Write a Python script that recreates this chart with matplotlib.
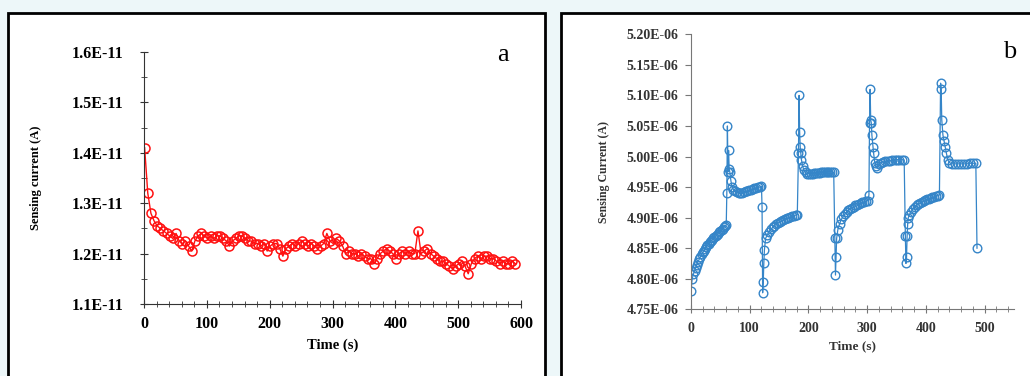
import numpy as np
import matplotlib
matplotlib.use("Agg")
import matplotlib.pyplot as plt
from matplotlib.patches import Rectangle
from matplotlib.ticker import MultipleLocator, FuncFormatter

# panel a: sensing current (units of 1E-11 A), one reading every 5 s from t=1 s
current_a = [
    1.41, 1.32, 1.28, 1.265, 1.255, 1.25, 1.245, 1.24, 1.235, 1.23,
    1.24, 1.225, 1.22, 1.225, 1.215, 1.205, 1.225, 1.235, 1.24, 1.235,
    1.23, 1.235, 1.23, 1.235, 1.235, 1.23, 1.225, 1.215, 1.225, 1.23,
    1.235, 1.235, 1.23, 1.225, 1.225, 1.22, 1.22, 1.215, 1.22, 1.205,
    1.215, 1.22, 1.22, 1.21, 1.195, 1.21, 1.215, 1.22, 1.215, 1.22,
    1.225, 1.22, 1.215, 1.22, 1.215, 1.21, 1.215, 1.22, 1.24, 1.225,
    1.22, 1.23, 1.225, 1.215, 1.20, 1.205, 1.20, 1.20, 1.195, 1.20,
    1.195, 1.19, 1.19, 1.18, 1.19, 1.20, 1.205, 1.21, 1.205, 1.20,
    1.19, 1.20, 1.205, 1.20, 1.205, 1.20, 1.20, 1.245, 1.20, 1.205,
    1.21, 1.20, 1.195, 1.19, 1.185, 1.185, 1.18, 1.175, 1.17, 1.175,
    1.18, 1.185, 1.175, 1.16, 1.18, 1.19, 1.195, 1.19, 1.195, 1.195,
    1.19, 1.19, 1.185, 1.18, 1.185, 1.18, 1.18, 1.185, 1.18,
]
time_a = np.arange(len(current_a)) * 5 + 1

# panel b: sensing current (units of 1E-06 A), four on/off cycles
cycle1_t = [0, 2, 4, 6, 8, 10, 12, 14, 16, 18, 20, 22, 24, 26, 28, 30, 32, 34,
            36, 38, 40, 42, 44, 46, 48, 50, 52, 54, 56, 58, 60,
            61, 62, 63, 64, 65, 66, 68, 70, 72, 75, 78, 81, 84, 87, 90, 93,
            96, 99, 102, 105, 108, 111, 114, 117, 120]
cycle1_i = [4.78, 4.80, 4.807, 4.813, 4.818, 4.823, 4.828, 4.832, 4.836, 4.84,
            4.843, 4.846, 4.849, 4.852, 4.855, 4.857, 4.86, 4.862, 4.864,
            4.866, 4.868, 4.87, 4.872, 4.874, 4.876, 4.878, 4.88, 4.882,
            4.884, 4.886, 4.888,
            4.94, 5.05, 4.975, 5.01, 4.98, 4.975, 4.96, 4.95, 4.946, 4.943,
            4.942, 4.94, 4.94, 4.941, 4.942, 4.943, 4.944, 4.945, 4.946,
            4.947, 4.948, 4.949, 4.95, 4.95, 4.951]
cycle2_t = [121, 122, 123, 124, 125, 127, 130, 133, 136, 139, 142, 145, 148,
            151, 154, 157, 160, 163, 166, 169, 172, 175, 178, 181,
            183, 184, 185, 186, 187, 188, 190, 192, 195, 198, 201, 204, 207,
            210, 213, 216, 219, 222, 225, 228, 231, 234, 237, 240, 243]
cycle2_i = [4.917, 4.777, 4.795, 4.825, 4.847, 4.866, 4.872, 4.877, 4.881,
            4.884, 4.887, 4.889, 4.891, 4.893, 4.895, 4.896, 4.898, 4.899,
            4.90, 4.901, 4.902, 4.903, 4.904, 4.905,
            5.005, 5.10, 5.04, 5.015, 5.005, 4.995, 4.985, 4.978, 4.974,
            4.972, 4.972, 4.972, 4.972, 4.973, 4.973, 4.973, 4.973, 4.974,
            4.974, 4.974, 4.974, 4.975, 4.975, 4.975, 4.974]
cycle3_t = [245, 246, 247, 248, 250, 253, 256, 259, 262, 265, 268, 271, 274,
            277, 280, 283, 286, 289, 292, 295, 298, 301, 303,
            304, 305, 306, 307, 308, 310, 311, 313, 315, 317, 320, 323, 327,
            331, 335, 339, 343, 347, 351, 355, 359, 363]
cycle3_i = [4.866, 4.806, 4.836, 4.866, 4.88, 4.89, 4.897, 4.902, 4.906,
            4.909, 4.912, 4.914, 4.916, 4.918, 4.92, 4.921, 4.922, 4.924,
            4.925, 4.926, 4.927, 4.928, 4.937,
            5.055, 5.11, 5.06, 5.055, 5.035, 5.015, 5.005, 4.99, 4.985,
            4.982, 4.988, 4.99, 4.991, 4.992, 4.993, 4.993, 4.994, 4.994,
            4.995, 4.995, 4.995, 4.994]
cycle4_t = [365, 366, 367, 368, 369, 370, 372, 375, 378, 381, 384, 387, 390,
            393, 396, 399, 402, 405, 408, 411, 414, 417, 420, 423,
            425, 426, 427, 429, 431, 433, 435, 437, 440, 445, 450, 455, 460,
            465, 470, 475, 480, 485, 487]
cycle4_i = [4.87, 4.825, 4.835, 4.87, 4.89, 4.90, 4.905, 4.91, 4.914, 4.917,
            4.92, 4.922, 4.924, 4.926, 4.928, 4.929, 4.93, 4.931, 4.932,
            4.933, 4.934, 4.935, 4.936, 4.937,
            5.12, 5.11, 5.06, 5.035, 5.025, 5.015, 5.005, 4.995, 4.99, 4.988,
            4.988, 4.988, 4.988, 4.988, 4.988, 4.989, 4.989, 4.989, 4.85]
time_b = cycle1_t + cycle2_t + cycle3_t + cycle4_t
current_b = cycle1_i + cycle2_i + cycle3_i + cycle4_i

plt.rcParams['font.family'] = ['Liberation Serif', 'DejaVu Serif']

fig = plt.figure(figsize=(10.3, 3.76), dpi=100, facecolor='#edf7f9')

# the two framed panels
fig.patches.append(Rectangle((8 / 1030, -0.1), 537 / 1030, 1.1 - 13 / 376,
                             transform=fig.transFigure, facecolor='white',
                             edgecolor='black', linewidth=2, zorder=-10))
fig.patches.append(Rectangle((561 / 1030, -0.1), 0.6, 1.1 - 13 / 376,
                             transform=fig.transFigure, facecolor='white',
                             edgecolor='black', linewidth=2, zorder=-10))

# ---- panel a
ax1 = fig.add_axes([144 / 1030, 72 / 376, 377 / 1030, 252 / 376])
ax1.patch.set_alpha(0)
ax1.plot(time_a, current_a, color='#ff1010', linewidth=1.0, marker='o',
         markersize=6.5, markerfacecolor='none', markeredgewidth=1.1)
ax1.set_xlim(0, 600)
ax1.set_ylim(1.1, 1.6)
ax1.xaxis.set_major_locator(MultipleLocator(100))
ax1.xaxis.set_minor_locator(MultipleLocator(20))
ax1.yaxis.set_major_locator(MultipleLocator(0.1))
ax1.yaxis.set_minor_locator(MultipleLocator(0.05))
ax1.yaxis.set_major_formatter(FuncFormatter(lambda v, p: f"{v:.1f}E-11"))
for s in ('top', 'right'):
    ax1.spines[s].set_visible(False)
for s in ('left', 'bottom'):
    ax1.spines[s].set_color('#333333')
ax1.tick_params(which='both', direction='inout', color='#333333')
ax1.tick_params(which='major', length=6, labelsize=11.5)
ax1.tick_params(axis='y', which='major', pad=12)
ax1.tick_params(axis='x', which='major', pad=6)
ax1.tick_params(which='minor', length=4)
for lab in ax1.get_xticklabels() + ax1.get_yticklabels():
    lab.set_fontweight('bold')
ax1.set_xlabel('Time (s)', fontsize=10.5, fontweight='bold', labelpad=4)
ax1.set_ylabel('Sensing current (A)', fontsize=9, fontweight='bold', labelpad=21)
fig.text(503 / 1030, 1 - 55 / 376, 'a', fontsize=19, ha='center', va='center')

# ---- panel b
ax2 = fig.add_axes([691 / 1030, 66.7 / 376, 323 / 1030, 275 / 376])
ax2.patch.set_alpha(0)
ax2.plot(time_b, current_b, color='#3585c8', linewidth=0.9, marker='o',
         markersize=6.2, markerfacecolor='none', markeredgewidth=1.0)
ax2.set_xlim(0, 550)
ax2.set_ylim(4.75, 5.20)
ax2.xaxis.set_major_locator(MultipleLocator(100))
ax2.xaxis.set_minor_locator(MultipleLocator(20))
ax2.yaxis.set_major_locator(MultipleLocator(0.05))
ax2.yaxis.set_major_formatter(FuncFormatter(lambda v, p: f"{v:.2f}E-06"))
for s in ('top', 'right'):
    ax2.spines[s].set_visible(False)
for s in ('left', 'bottom'):
    ax2.spines[s].set_color('#777777')
ax2.tick_params(axis='x', which='both', direction='inout', color='#777777')
ax2.tick_params(axis='x', which='major', length=6, pad=6)
ax2.tick_params(axis='x', which='minor', length=4)
ax2.tick_params(axis='y', direction='out', length=4, color='#777777', pad=5)
ax2.tick_params(which='major', labelsize=10, labelcolor='#333333')
for lab in ax2.get_xticklabels() + ax2.get_yticklabels():
    lab.set_fontweight('bold')
ax2.set_xlabel('Time (s)', fontsize=9.5, fontweight='bold', color='#333333', labelpad=4)
ax2.set_ylabel('Sensing Current (A)', fontsize=8.5, fontweight='bold', color='#333333', labelpad=12)
fig.text(1010 / 1030, 1 - 52 / 376, 'b', fontsize=19, ha='center', va='center')

fig.savefig('out.png', dpi=100, facecolor=fig.get_facecolor())
